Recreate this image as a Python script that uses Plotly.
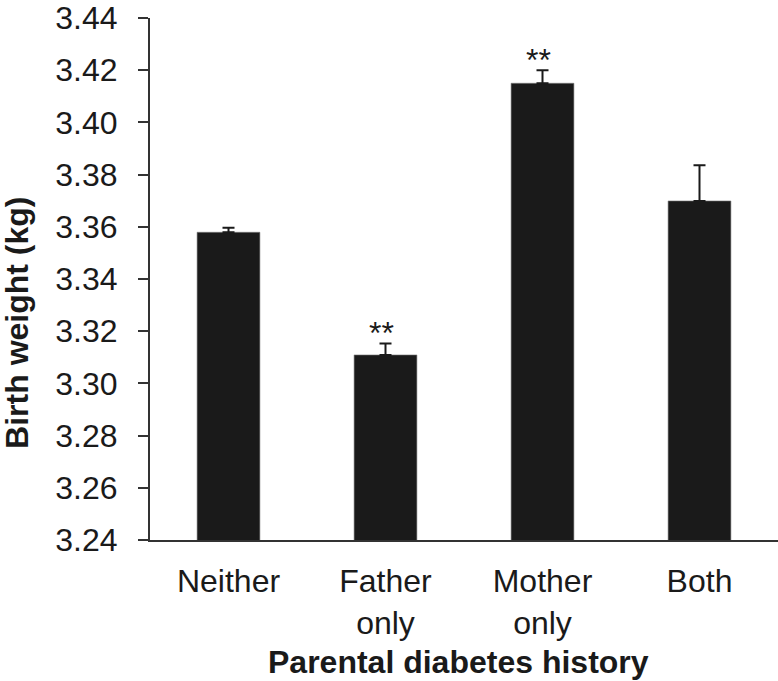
import plotly.graph_objects as go

categories = ["Neither", "Father<br>only", "Mother<br>only", "Both"]
birth_weight = [3.3579, 3.3109, 3.4150, 3.3699]
error_upper = [0.0017, 0.0044, 0.0050, 0.0137]
significance = ["", "**", "**", ""]
y_ticks = [3.24, 3.26, 3.28, 3.30, 3.32, 3.34, 3.36, 3.38, 3.40, 3.42, 3.44]

FONT = "Arial, Liberation Sans, Helvetica, sans-serif"
INK = "#1a1a1a"

fig = go.Figure()
fig.add_trace(go.Bar(
    x=list(range(len(categories))),
    y=birth_weight,
    width=0.4,
    marker=dict(color=INK, line=dict(color="#7a7a7a", width=0.6)),
    error_y=dict(type="data", symmetric=False, array=error_upper,
                 arrayminus=[0] * len(error_upper),
                 color=INK, thickness=2, width=6),
))

for i, (v, e, s) in enumerate(zip(birth_weight, error_upper, significance)):
    if s:
        fig.add_annotation(x=i, y=v + e, text=s, showarrow=False,
                           xanchor="center", yanchor="middle",
                           xshift=-4, yshift=10,
                           font=dict(family=FONT, size=32, color=INK))

fig.add_annotation(text="Birth weight (kg)", textangle=-90, showarrow=False,
                   xref="paper", yref="paper", x=-0.212, y=0.4156,
                   xanchor="center", yanchor="middle",
                   font=dict(family=FONT, size=32, color=INK, weight="bold"))
fig.add_annotation(text="Parental diabetes history", showarrow=False,
                   xref="paper", yref="paper", x=0.492, y=-0.2334,
                   xanchor="center", yanchor="middle",
                   font=dict(family=FONT, size=32, color=INK, weight="bold"))

fig.update_layout(
    width=778, height=681,
    margin=dict(l=150, r=0, t=13, b=141),
    paper_bgcolor="white", plot_bgcolor="white",
    showlegend=False,
    font=dict(family=FONT, size=32, color=INK),
    bargap=0.6,
)
fig.update_yaxes(
    range=[3.24, 3.44], tickvals=y_ticks,
    ticktext=[f"{t:.2f}" for t in y_ticks],
    ticks="outside", ticklen=10, tickwidth=2, tickcolor="#333333",
    showline=True, linecolor="#333333", linewidth=2,
    showgrid=False, zeroline=False, ticklabelstandoff=14,
    ticklabeloverflow="allow",
    tickfont=dict(family=FONT, size=32, color=INK),
)
fig.update_xaxes(
    range=[-0.5, 3.5], tickvals=list(range(len(categories))),
    ticktext=categories, ticks="",
    showline=True, linecolor="#333333", linewidth=2,
    showgrid=False, zeroline=False, ticklabelstandoff=12,
    ticklabeloverflow="allow",
    tickfont=dict(family=FONT, size=32, color=INK),
)

fig.write_html("out.html",
               config={"displayModeBar": False},
               post_script="document.body.style.margin='0';document.body.style.overflow='hidden';")
